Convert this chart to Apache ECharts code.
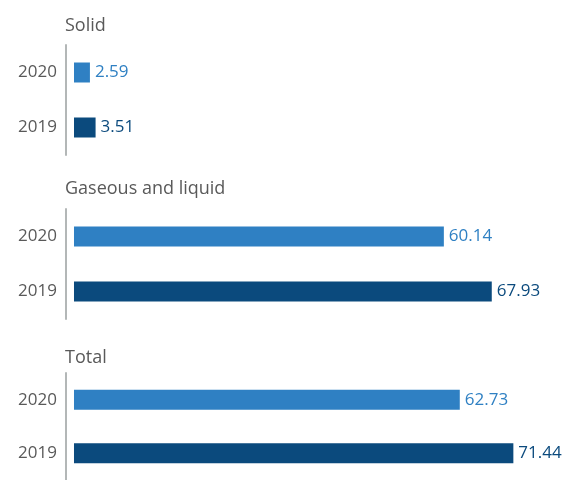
<!DOCTYPE html>
<html>
<head>
<meta charset="utf-8">
<script src="https://cdn.jsdelivr.net/npm/echarts@6/dist/echarts.min.js"></script>
<style>
  html, body { margin: 0; padding: 0; background: #fff; }
  #chart { width: 567px; height: 480px; }
</style>
</head>
<body>
<div id="chart"></div>
<script>
// data
const years = ['2020', '2019']
const panelTitles = ['Solid', 'Gaseous and liquid', 'Total']
const solid = [2.59, 3.51]
const gasLiquid = [60.14, 67.93]
const total = [62.73, 71.44]

const colors = ['#2F80C3', '#0B4A7D']
const font = '"Open Sans", sans-serif'
const gridTops = [45, 209, 373]
const titleTops = [12, 175, 344]

const chart = echarts.init(document.getElementById('chart'))

const panels = [solid, gasLiquid, total]

const option = {
  animation: false,
  title: panelTitles.map((t, i) => ({
    text: t,
    left: 60,
    top: titleTops[i],
    textStyle: { fontFamily: font, fontSize: 18, fontWeight: 'normal', color: '#595959' }
  })),
  grid: gridTops.map(top => ({ left: 66, width: 500, top: top, height: 110 })),
  xAxis: panels.map((p, i) => ({
    type: 'value', gridIndex: i, min: -1.3, max: 80, show: false
  })),
  yAxis: panels.map((p, i) => ({
    type: 'category',
    gridIndex: i,
    data: years,
    inverse: true,
    axisLine: { onZero: false, lineStyle: { color: '#B3B7B7', width: 2 } },
    axisTick: { show: false },
    axisLabel: { margin: 9, fontFamily: font, fontSize: 17, color: '#595959' }
  })),
  series: panels.map((vals, i) => ({
    type: 'bar',
    xAxisIndex: i,
    yAxisIndex: i,
    barWidth: 20,
    data: vals.map((v, j) => ({
      value: v,
      itemStyle: { color: colors[j] },
      label: { color: colors[j] }
    })),
    label: {
      show: true,
      position: 'right',
      distance: 5,
      fontFamily: font,
      fontSize: 17,
      formatter: p => p.value.toFixed(2)
    }
  }))
}

chart.setOption(option)
</script>
</body>
</html>
